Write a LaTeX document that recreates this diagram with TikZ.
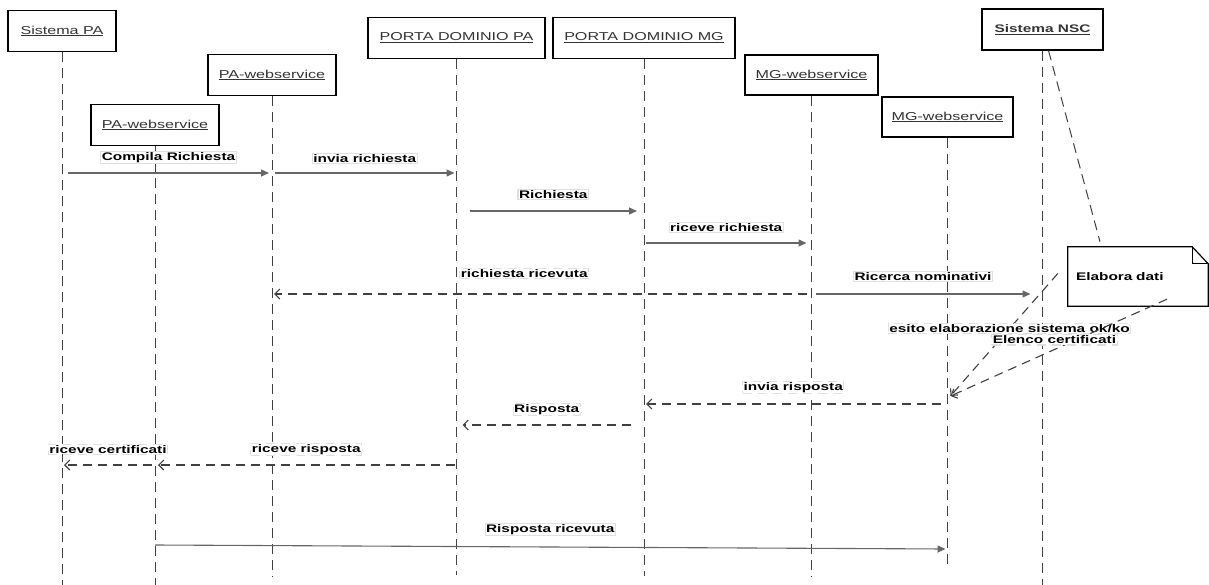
\documentclass[tikz,border=0pt]{standalone}
\usepackage{fontspec}
\setmainfont{Liberation Sans}[FakeStretch=1.4]
\usetikzlibrary{positioning}
\usetikzlibrary{arrows.meta}

\tikzset{
  obj/.style={draw, line width=1.2pt, minimum height=41pt, inner sep=2pt, text=black!80, font=\fontsize{11.5}{13}\selectfont},
  life/.style={draw=black!75, line width=1pt, dash pattern=on 10pt off 6pt},
  msg/.style={draw=black!60, line width=1.1pt, -{Triangle[length=8pt,width=7pt]}},
  reply/.style={draw=black!75, line width=1.1pt, dash pattern=on 9pt off 6pt, -{Straight Barb[length=5pt,width=10pt]}},
  lbl/.style={fill=white, draw=black!12, inner sep=1pt, font=\bfseries\fontsize{11}{13}\selectfont}
}

\begin{document}
\begin{tikzpicture}[x=1pt, y=-1pt]
  \useasboundingbox (0,0) rectangle (1209,585);

  % the objects
  \node[obj, minimum width=108pt] (spa)   at (62,31)     {\underline{Sistema PA}};
  \node[obj, minimum width=128pt] (paws1) at (272,75)    {\underline{PA-webservice}};
  \node[obj, minimum width=128pt] (paws2) at (155,125)   {\underline{PA-webservice}};
  \node[obj, minimum width=177pt] (pdpa)  at (456.5,38)  {\underline{PORTA DOMINIO PA}};
  \node[obj, minimum width=182pt] (pdmg)  at (644,38)    {\underline{PORTA DOMINIO MG}};
  \node[obj, minimum width=133pt, minimum height=40pt] (mgws1) at (811.5,75)  {\underline{MG-webservice}};
  \node[obj, minimum width=131pt, minimum height=40pt] (mgws2) at (947.5,117) {\underline{MG-webservice}};
  \node[obj, minimum width=121pt, font=\bfseries\fontsize{11}{13}\selectfont] (nsc) at (1042.5,29.5) {\underline{Sistema NSC}};

  % the note
  \node[minimum width=140pt, minimum height=59pt, text width=124pt, font=\bfseries\fontsize{11}{13}\selectfont] (note) at (1138,276.5) {Elabora dati\\[8pt]};
  \draw[line width=1.2pt] (note.north west) -- ([xshift=-16pt]note.north east) -- ([yshift=-17pt]note.north east)
    -- (note.south east) -- (note.south west) -- cycle;
  \draw[line width=1pt] ([xshift=-16pt]note.north east) |- ([yshift=-17pt]note.north east);

  % lifelines
  \draw[life] (spa.south)   -- (spa |- 0,585);
  \draw[life] (paws1.south) -- (paws1 |- 0,577);
  \draw[life] (paws2.south) -- (paws2 |- 0,585);
  \draw[life] (pdpa.south)  -- (pdpa |- 0,575);
  \draw[life] (pdmg.south)  -- (pdmg |- 0,576);
  \draw[life] (mgws1.south) -- (mgws1 |- 0,577);
  \draw[life] (mgws2.south) -- (mgws2 |- 0,568);
  \draw[life] (nsc.south)   -- (nsc |- 0,585);
  \draw[life] ([xshift=6pt]nsc.south) -- ([xshift=-38pt,yshift=5pt]note.north);

  % message rows
  \coordinate (r1) at (0,173);
  \coordinate (r2) at (0,211);
  \coordinate (r3) at (0,243);
  \coordinate (r4) at (0,294);
  \coordinate (r5) at (0,404);
  \coordinate (r6) at (0,425);
  \coordinate (r7) at (0,465);
  \coordinate (r8) at (0,545);

  % messages
  \draw[msg] ([xshift=6pt]spa |- r1) -- node[lbl, above=9pt] {Compila Richiesta} ([xshift=-3pt]paws1 |- r1);
  \draw[msg] ([xshift=3pt]paws1 |- r1) -- node[lbl, above=9pt] {invia richiesta} ([xshift=-2pt]pdpa |- r1);
  \draw[msg] ([xshift=13pt]pdpa |- r2) -- node[lbl, above=11pt] {Richiesta} ([xshift=-7pt]pdmg |- r2);
  \draw[msg] ([xshift=2pt]pdmg |- r3) -- node[lbl, above=10pt] {riceve richiesta} ([xshift=-5pt]mgws1 |- r3);
  \draw[reply] ([xshift=-5pt]mgws1 |- r4) -- node[lbl, above=15pt, pos=0.53] {richiesta ricevuta} ([xshift=2pt]paws1 |- r4);
  \draw[msg] ([xshift=4pt]mgws1 |- r4) -- node[lbl, above=12pt] {Ricerca nominativi} ([xshift=-12pt]nsc |- r4);

  % results from the note
  \draw[reply] ([xshift=-10pt,yshift=3pt]note.west) -- node[lbl, pos=0.45] {esito elaborazione sistema ok/ko} ([xshift=3pt]mgws2 |- 0,396);
  \draw[reply] ([xshift=29pt,yshift=7pt]note.south) -- node[lbl, pos=0.52, above=4pt] {Elenco certificati} ([xshift=3pt]mgws2 |- 0,396);

  \draw[reply] ([xshift=-7pt]mgws2 |- r5) -- node[lbl, above=10pt] {invia risposta} ([xshift=2pt]pdmg |- r5);
  \draw[reply] ([xshift=-13pt]pdmg |- r6) -- node[lbl, above=9pt] {Risposta} ([xshift=6pt]pdpa |- r6);
  \draw[reply] ([xshift=-2pt]pdpa |- r7) -- node[lbl, above=9pt] {riceve risposta} ([xshift=3pt]paws2 |- r7);
  \draw[reply] ([xshift=-3pt]paws2 |- r7) -- node[lbl, above=10pt] {riceve certificati} ([xshift=2pt]spa |- r7);
  \draw[msg] (paws2 |- r8) -- node[lbl, above=11pt] {Risposta ricevuta} ([xshift=-2pt,yshift=-4pt]mgws2 |- r8);
\end{tikzpicture}
\end{document}
